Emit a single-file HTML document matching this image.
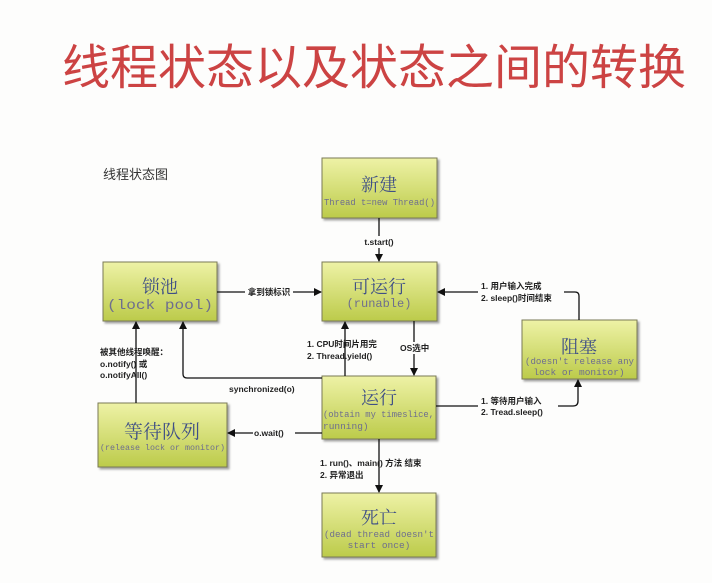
<!DOCTYPE html>
<html><head><meta charset="utf-8"><style>
html,body{margin:0;padding:0;background:#fdfdfc;}
svg{display:block;}
.t{font-family:"Liberation Sans","Noto Sans CJK SC",sans-serif;}
.h{font-family:"Liberation Serif","Noto Serif CJK SC",serif;fill:#3f4f86;font-size:18px;}
.m{font-family:"Liberation Mono","Noto Sans CJK SC",monospace;fill:#6e6e8e;font-size:9.5px;}
.l{font-family:"Liberation Sans","Noto Sans CJK SC",sans-serif;font-size:8.5px;font-weight:bold;fill:#222;}
</style></head><body>
<svg width="712" height="583" viewBox="0 0 712 583" xmlns="http://www.w3.org/2000/svg">
<defs>
<linearGradient id="g" x1="0" y1="0" x2="0" y2="1">
<stop offset="0" stop-color="#eef2a6"/><stop offset="1" stop-color="#bccb4a"/>
</linearGradient>
<marker id="a" markerWidth="8" markerHeight="8" refX="7" refY="4" orient="auto" markerUnits="userSpaceOnUse">
<path d="M0,0 L8,4 L0,8 z" fill="#111"/></marker>
<filter id="s"><feDropShadow dx="2" dy="2" stdDeviation="1" flood-color="#666" flood-opacity="0.6"/></filter>
</defs>
<text x="62" y="84" class="t" font-size="48" fill="#cc4343">线程状态以及状态之间的转换</text>
<text x="103" y="179" class="t" font-size="13" fill="#333">线程状态图</text>

<g fill="url(#g)" stroke="#7a7a55" stroke-width="1" filter="url(#s)">
<rect x="322" y="158" width="115" height="60"/>
<rect x="322" y="262" width="115" height="59"/>
<rect x="103" y="262" width="114" height="59"/>
<rect x="522" y="320" width="115" height="59"/>
<rect x="322" y="376" width="114" height="63"/>
<rect x="98" y="403" width="129" height="64"/>
<rect x="322" y="493" width="114" height="64"/>
</g>
<text x="379" y="191" class="h" text-anchor="middle">新建</text>
<text x="324" y="205" class="m" textLength="111" lengthAdjust="spacingAndGlyphs">Thread t=new Thread()</text>
<text x="379" y="293" class="h" text-anchor="middle">可运行</text>
<text x="379" y="307" class="m" text-anchor="middle" style="font-size:12px">(runable)</text>
<text x="160" y="293" class="h" text-anchor="middle">锁池</text>
<text x="107" y="309" class="m" style="font-size:14px" textLength="106" lengthAdjust="spacingAndGlyphs">(lock pool)</text>
<text x="579" y="353" class="h" text-anchor="middle">阻塞</text>
<text x="525" y="364" class="m" textLength="109" lengthAdjust="spacingAndGlyphs">(doesn't release any</text>
<text x="579" y="375" class="m" text-anchor="middle">lock or monitor)</text>
<text x="379" y="404" class="h" text-anchor="middle">运行</text>
<text x="323" y="417" class="m" textLength="111" lengthAdjust="spacingAndGlyphs">(obtain my timeslice,</text>
<text x="323" y="429" class="m">running)</text>
<text x="162" y="438" class="h" text-anchor="middle" style="font-size:19px">等待队列</text>
<text x="100" y="450" class="m" textLength="125" lengthAdjust="spacingAndGlyphs" style="font-size:8px">(release lock or monitor)</text>
<text x="379" y="524" class="h" text-anchor="middle">死亡</text>
<text x="324" y="537" class="m" textLength="110" lengthAdjust="spacingAndGlyphs">(dead thread doesn't</text>
<text x="379" y="548" class="m" text-anchor="middle">start once)</text>

<g stroke="#111" stroke-width="1.3" fill="none">
<line x1="379" y1="218" x2="379" y2="261" marker-end="url(#a)"/>
<line x1="217" y1="292" x2="321" y2="292" marker-end="url(#a)"/>
<path d="M579,320 V296 Q579,292 575,292 H438" marker-end="url(#a)"/>
<line x1="345" y1="376" x2="345" y2="322" marker-end="url(#a)"/>
<line x1="414" y1="321" x2="414" y2="375" marker-end="url(#a)"/>
<path d="M322,378 H187 Q183,378 183,374 V322" marker-end="url(#a)"/>
<line x1="136" y1="403" x2="136" y2="322" marker-end="url(#a)"/>
<line x1="322" y1="433" x2="228" y2="433" marker-end="url(#a)"/>
<path d="M436,406 H573 Q578,406 578,401 V380" marker-end="url(#a)"/>
<line x1="379" y1="439" x2="379" y2="492" marker-end="url(#a)"/>
</g>
<g>
<rect x="357" y="236" width="44" height="12" fill="#fdfdfc"/>
<text x="379" y="245" class="l" text-anchor="middle">t.start()</text>
<rect x="245" y="286" width="48" height="12" fill="#fdfdfc"/>
<text x="269" y="295" class="l" text-anchor="middle">拿到锁标识</text>
<rect x="478" y="280" width="86" height="24" fill="#fdfdfc"/>
<text x="481" y="289" class="l">1. 用户输入完成</text>
<text x="481" y="301" class="l">2. sleep()时间结束</text>
<text x="307" y="347" class="l">1. CPU时间片用完</text>
<text x="307" y="359" class="l">2. Thread.yield()</text>
<rect x="398" y="342" width="32" height="12" fill="#fdfdfc"/>
<text x="400" y="351" class="l">OS选中</text>
<text x="100" y="355" class="l">被其他线程唤醒：</text>
<text x="100" y="367" class="l">o.notify() 或</text>
<text x="100" y="378" class="l">o.notifyAll()</text>
<text x="229" y="392" class="l">synchronized(o)</text>
<rect x="253" y="427" width="42" height="12" fill="#fdfdfc"/>
<text x="254" y="436" class="l">o.wait()</text>
<rect x="478" y="399" width="80" height="24" fill="#fdfdfc"/>
<text x="481" y="404" class="l">1. 等待用户输入</text>
<text x="481" y="415" class="l">2. Tread.sleep()</text>
<rect x="320" y="457" width="56" height="24" fill="#fdfdfc"/>
<text x="320" y="466" class="l">1. run()、main() 方法 结束</text>
<text x="320" y="478" class="l">2. 异常退出</text>
</g>
</svg>
</body></html>
